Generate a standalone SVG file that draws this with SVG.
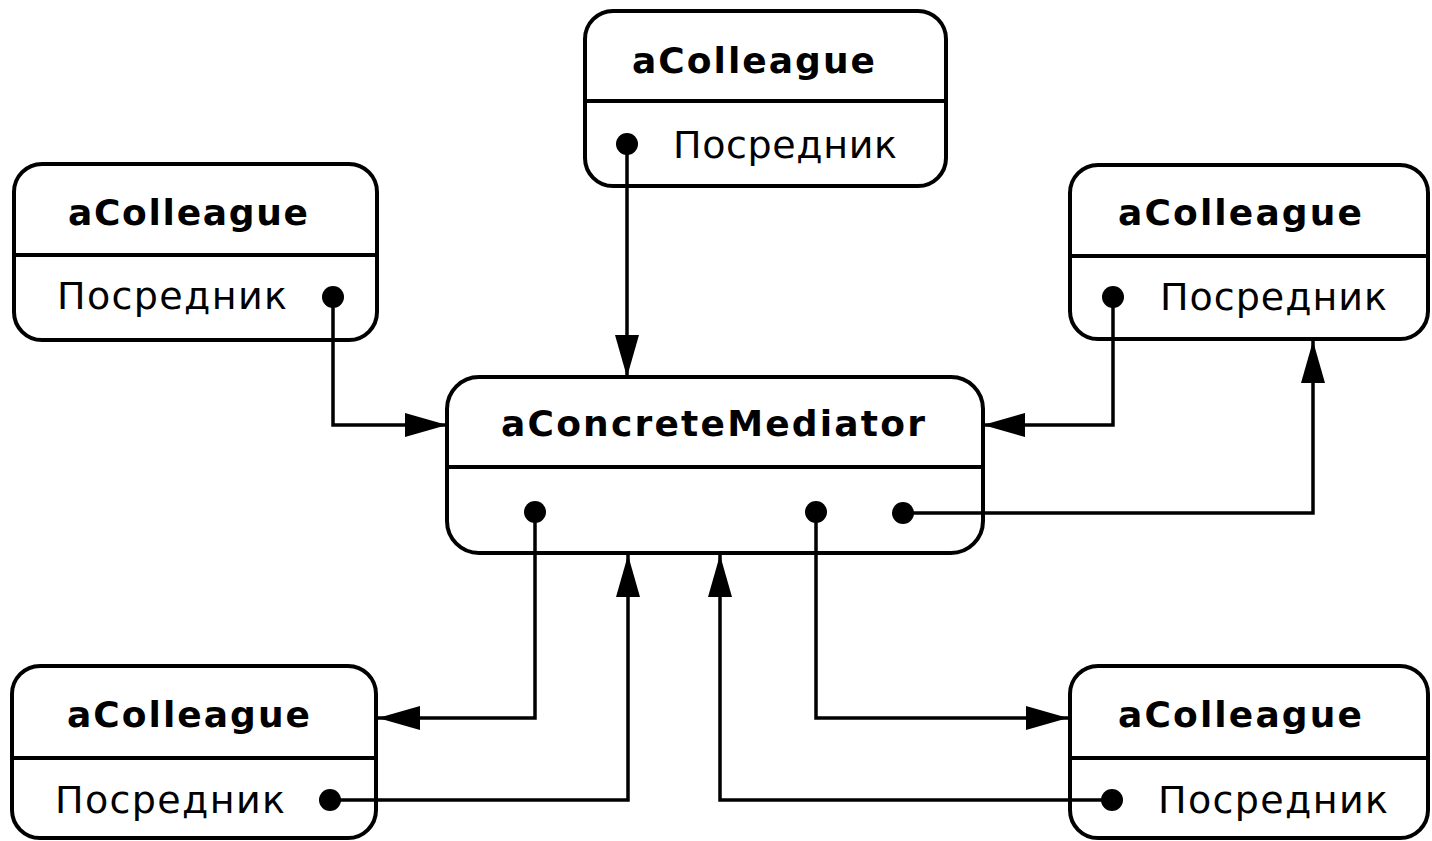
<svg xmlns="http://www.w3.org/2000/svg" width="1432" height="841" viewBox="0 0 1432 841">
  <style>
    .box { fill: #fff; stroke: #000; stroke-width: 4; }
    .div { stroke: #000; stroke-width: 4; }
    .title { font-family: "DejaVu Sans", "Liberation Sans", sans-serif; font-weight: bold; font-size: 36px; fill: #000; }
    .attr { font-family: "DejaVu Sans", "Liberation Sans", sans-serif; font-size: 38px; fill: #000; }
    .dot { fill: #000; }
    .wire { fill: none; stroke: #000; stroke-width: 3.5; marker-end: url(#arrow); }
  </style>
  <defs>
    <marker id="arrow" markerUnits="userSpaceOnUse" markerWidth="44" markerHeight="26" refX="42" refY="12" orient="auto">
      <path d="M0,0 L42,12 L0,24 Z" fill="#000"/>
    </marker>
  </defs>
  <rect width="1432" height="841" fill="#fff"/>

  <!-- colleague above the mediator -->
  <g id="colleague-top">
    <rect class="box" x="585" y="11" width="361" height="175" rx="28"/>
    <line class="div" x1="585" y1="101" x2="946" y2="101"/>
    <text class="title" x="632" y="73" textLength="243">aColleague</text>
    <text class="attr" x="673" y="158" textLength="224">Посредник</text>
    <circle class="dot" cx="627" cy="144" r="11"/>
  </g>

  <!-- colleague upper left -->
  <g id="colleague-left">
    <rect class="box" x="14" y="164" width="363" height="176" rx="28"/>
    <line class="div" x1="14" y1="255" x2="377" y2="255"/>
    <text class="title" x="68" y="225" textLength="240">aColleague</text>
    <text class="attr" x="57" y="309" textLength="230">Посредник</text>
    <circle class="dot" cx="333" cy="297" r="11"/>
  </g>

  <!-- colleague upper right -->
  <g id="colleague-right">
    <rect class="box" x="1070" y="165" width="358" height="174" rx="28"/>
    <line class="div" x1="1070" y1="256" x2="1428" y2="256"/>
    <text class="title" x="1118" y="225" textLength="244">aColleague</text>
    <text class="attr" x="1160" y="310" textLength="227">Посредник</text>
    <circle class="dot" cx="1113" cy="297" r="11"/>
  </g>

  <!-- the concrete mediator -->
  <g id="mediator">
    <rect class="box" x="447" y="377" width="536" height="176" rx="32"/>
    <line class="div" x1="447" y1="467" x2="983" y2="467"/>
    <text class="title" x="501" y="436" textLength="424">aConcreteMediator</text>
    <circle class="dot" cx="535" cy="512" r="11"/>
    <circle class="dot" cx="816" cy="512" r="11"/>
    <circle class="dot" cx="903" cy="513" r="11"/>
  </g>

  <!-- colleague lower left -->
  <g id="colleague-bottom-left">
    <rect class="box" x="12" y="666" width="364" height="172" rx="28"/>
    <line class="div" x1="12" y1="758" x2="376" y2="758"/>
    <text class="title" x="67" y="727" textLength="243">aColleague</text>
    <text class="attr" x="55" y="813" textLength="230">Посредник</text>
    <circle class="dot" cx="330" cy="800" r="11"/>
  </g>

  <!-- colleague lower right -->
  <g id="colleague-bottom-right">
    <rect class="box" x="1070" y="666" width="358" height="172" rx="28"/>
    <line class="div" x1="1070" y1="758" x2="1428" y2="758"/>
    <text class="title" x="1118" y="727" textLength="244">aColleague</text>
    <text class="attr" x="1158" y="813" textLength="230">Посредник</text>
    <circle class="dot" cx="1112" cy="800" r="11"/>
  </g>

  <!-- connectors, drawn last so they run from the dots across the box edges -->
  <g id="connectors">
    <path class="wire" d="M627,145 V377"/>
    <path class="wire" d="M333,297 V425 H447"/>
    <path class="wire" d="M1113,297 V425 H983"/>
    <path class="wire" d="M903,513 H1313 V341"/>
    <path class="wire" d="M535,512 V718 H378"/>
    <path class="wire" d="M330,800 H628 V555"/>
    <path class="wire" d="M816,512 V718 H1068"/>
    <path class="wire" d="M1112,800 H720 V555"/>
  </g>
</svg>
